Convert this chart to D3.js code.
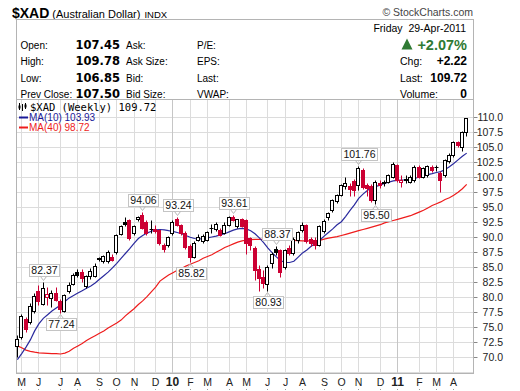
<!DOCTYPE html>
<html><head><meta charset="utf-8">
<script src="https://cdn.jsdelivr.net/npm/d3@7"></script>
<style>
body{margin:0;background:#fff}
svg{display:block}
</style>
</head><body>
<svg id="c" width="520" height="391" font-family="Liberation Sans, Arial, sans-serif"></svg>
<script>
// ---------- DATA (weekly $XAD, one value per week starting 27-Apr-2009) ----------
const firstWeek = "2009-04-27";
const lastWeek  = "2011-04-25";
const opens = [71.7,73.3,76.3,75.8,77.6,81.0,78.8,79.9,79.8,80.6,79.3,77.6,80.9,82.2,84.2,84.2,81.7,83.4,83.5,86.4,
85.9,85.9,86.7,87.5,90.45,92.4,92.8,90.6,92.9,93.6,92.5,91.3,91.3,91.1,88.6,88.6,90.6,93.0,91.95,90.6,
88.5,86.7,89.45,89.3,89.5,91.5,91.2,91.1,90.6,92.0,93.3,91.7,92.9,92.8,89.7,88.1,84.7,83.3,82.2,85.6,
88.0,87.8,85.0,88.1,87.3,89.5,91.1,91.95,89.55,89.4,88.6,90.9,93.3,94.45,95.9,96.95,98.4,98.4,99.3,98.6,
101.1,98.6,98.5,96.2,99.0,99.1,99.2,100.0,101.95,99.2,99.7,99.2,99.45,101.7,100.0,100.3,101.7,101.65,100.6,100.3,
102.6,103.6,105.7,105.0,107.5];
const highs = [73.6,77.2,76.6,78.9,80.6,81.9,82.37,81.6,81.1,81.6,79.7,80.5,82.4,84.0,84.6,84.6,83.6,84.8,85.6,86.7,
86.9,87.8,87.2,90.4,91.9,93.3,93.0,92.0,93.4,94.06,92.8,92.8,91.9,91.3,88.9,90.1,92.7,93.24,92.2,90.9,
88.8,89.2,90.5,90.4,91.0,92.2,92.4,91.4,92.4,93.5,93.61,93.0,93.1,93.0,90.0,88.4,85.3,84.5,85.2,87.5,
88.37,88.0,88.0,88.7,89.9,91.0,92.4,92.2,90.0,90.0,91.9,92.9,94.2,96.3,97.2,98.8,100.0,99.0,99.7,101.76,
101.5,99.0,98.8,99.4,99.5,99.5,100.5,102.5,102.2,100.3,100.2,100.3,101.9,101.9,101.6,102.0,102.0,101.9,101.0,103.0,
103.9,105.9,106.0,107.6,109.78];
const lows = [70.0,73.0,74.1,75.4,77.3,78.7,78.6,78.6,78.2,79.3,77.24,77.4,80.6,81.9,83.3,82.5,81.4,82.9,83.3,85.9,
85.6,85.6,85.9,87.2,90.2,91.7,89.5,90.3,92.6,91.3,90.3,90.6,90.6,88.7,87.5,88.3,90.3,91.7,90.3,88.0,
85.82,86.4,89.2,89.0,89.3,90.6,91.0,90.1,90.4,91.8,92.6,91.5,91.6,87.2,87.8,82.8,81.0,81.5,80.93,84.8,
86.9,83.3,84.6,86.9,86.9,89.0,90.8,89.0,88.4,87.9,88.4,90.7,92.8,94.2,95.6,96.7,97.9,96.8,96.7,97.7,
98.0,96.7,95.8,95.5,98.2,98.4,98.9,99.8,99.2,98.3,98.9,99.0,99.2,99.8,99.8,100.0,100.8,101.0,97.4,100.0,
102.3,103.3,104.9,104.2,106.7];
const closes = [73.0,76.8,74.6,78.5,80.1,79.2,81.4,80.4,80.6,79.5,77.9,80.3,82.0,83.6,83.7,83.2,83.45,84.3,85.1,86.3,
86.8,87.5,86.1,90.3,91.7,92.2,89.7,91.8,93.2,91.4,90.6,91.2,91.0,89.0,87.9,89.9,92.5,92.0,90.6,88.3,
86.7,89.0,90.0,90.1,90.8,91.4,92.1,90.3,91.95,93.3,92.8,92.9,91.8,88.9,88.6,84.45,83.1,82.3,84.9,87.2,
87.4,84.2,87.8,87.3,89.6,90.8,92.0,89.2,88.9,88.6,91.7,92.6,93.9,96.1,96.95,98.6,98.9,97.9,97.8,101.4,
98.3,98.1,96.1,99.2,98.7,98.9,100.3,102.2,99.45,99.4,99.5,100.0,101.7,100.0,101.4,101.8,101.1,101.55,99.45,102.8,
103.7,105.7,105.2,107.5,109.72];
const ma10 = [69.5,70.5,71.6,72.8,74.3,75.5,76.4,77.0,77.6,78.1,78.6,79.2,79.8,80.2,80.6,81.0,81.4,81.8,82.3,82.9,
83.5,84.1,84.8,85.55,86.4,87.2,88.0,88.9,89.7,90.2,90.6,90.9,91.15,91.2,91.15,91.0,90.9,90.7,90.5,90.2,
89.9,89.7,89.6,89.7,89.8,89.95,90.1,90.3,90.5,90.8,91.1,91.3,91.4,91.3,91.0,90.5,89.8,89.0,88.1,87.3,
86.6,86.0,85.7,85.7,85.9,86.6,87.3,87.8,88.4,88.9,89.4,90.1,90.7,91.3,92.0,92.5,93.4,94.4,95.3,96.4,
97.1,97.7,98.2,98.4,98.6,98.9,99.1,99.3,99.4,99.45,99.45,99.5,99.7,99.95,100.1,100.35,100.5,100.7,100.85,101.2,
101.65,102.2,102.8,103.4,103.93];
const ma40 = [71.8,71.5,71.1,70.9,70.75,70.65,70.6,70.55,70.5,70.5,70.45,70.6,70.9,71.4,71.8,72.2,72.7,73.1,73.5,73.9,
74.3,74.8,75.2,75.6,76.1,76.8,77.4,78.0,78.7,79.3,80.0,80.8,81.6,82.6,83.1,83.6,84.0,84.4,84.7,85.1,
85.4,85.7,86.0,86.4,86.7,87.0,87.4,87.8,88.2,88.5,88.8,89.1,89.3,89.45,89.5,89.55,89.55,89.55,89.55,89.55,
89.55,89.55,89.5,89.45,89.4,89.35,89.3,89.3,89.3,89.3,89.4,89.6,89.75,89.9,90.0,90.2,90.4,90.6,90.8,91.0,
91.2,91.4,91.6,91.8,92.0,92.3,92.5,92.7,92.9,93.1,93.3,93.5,93.8,94.1,94.4,94.8,95.2,95.5,95.8,96.2,
96.5,96.9,97.4,98.0,98.72];
const yTicks = [70,72.5,75,77.5,80,82.5,85,87.5,90,92.5,95,97.5,100,102.5,105,107.5,110];
const monthLabels = ["M","J","J","A","S","O","N","D","10","F","M","A","M","J","J","A","S","O","N","D","11","F","M","A"];
const annIndex = [6,10,29,37,40,50,58,60,79,83];
const annValue = [82.37,77.24,94.06,93.24,85.82,93.61,80.93,88.37,101.76,95.50];
const annSide  = ["high","low","high","high","low","high","low","high","high","low"];
const infoLabels1 = ["Open:","High:","Low:","Prev Close:"];
const infoValues1 = ["107.45","109.78","106.85","107.50"];
const infoLabels2 = ["Ask:","Ask Size:","Bid:","Bid Size:"];
const infoLabels3 = ["P/E:","EPS:","Last:","VWAP:"];
const rightLabels = ["Chg:","Last:","Volume:"];
const rightValues = ["+2.22","109.72","0"];

// ---------- DRAW ----------
const svg = d3.select("#c");
svg.append("rect").attr("width",520).attr("height",391).attr("fill","#fff");
const RED = "#cc0033", BLK = "#000", GREEN = "#2f7a34";
const parse = d3.timeParse("%Y-%m-%d");
const weeks = d3.timeMonday.range(parse(firstWeek), d3.timeDay.offset(parse(lastWeek),1));
const x = d3.scaleTime().domain([new Date(2009,4,4), parse(lastWeek)]).range([21.7,466.7]);
const y = d3.scaleLinear().domain([70,110]).range([356.7,116.7]);
const px = d => Math.floor(x(d)) + 0.5;
const py = v => Math.round(y(v)) + 0.5;
const L = 16.5, R = 473.5, T = 99.5, B = 373.5;

// title
const title = svg.append("text").attr("x",12).attr("y",17.5);
title.append("tspan").attr("font-weight","bold").attr("font-size","14px").text("$XAD");
title.append("tspan").attr("font-size","11px").attr("dx",3).text("(Australian Dollar)");
title.append("tspan").attr("font-size","9.5px").attr("dx",4).text("INDX");
svg.append("text").attr("x",473).attr("y",15.5).attr("text-anchor","end")
  .attr("font-size","10.5px").attr("fill","#444").text("\u00A9 StockCharts.com");

// info box
svg.append("rect").attr("x",L).attr("y",19.5).attr("width",R-L).attr("height",T-19.5)
  .attr("fill","#fff").attr("stroke","#b4b4b4");
const rowsY = [48.5,65,81.5,97.5];
rowsY.forEach((yy,i)=>{
  svg.append("text").attr("x",20.5).attr("y",yy).attr("font-size","10px").text(infoLabels1[i]);
  svg.append("text").attr("x",120).attr("y",yy).attr("text-anchor","end")
    .attr("font-family","DejaVu Sans").attr("font-weight","bold").attr("font-size","11.5px").text(infoValues1[i]);
  svg.append("text").attr("x",126).attr("y",yy).attr("font-size","10px").text(infoLabels2[i]);
  svg.append("text").attr("x",197).attr("y",yy).attr("font-size","10px").text(infoLabels3[i]);
});
svg.append("text").attr("x",466).attr("y",31.5).attr("text-anchor","end").attr("font-size","10.5px")
  .style("white-space","pre").text("Friday  29-Apr-2011");
svg.append("path").attr("d","M401.5,49.5L407,38.5L412.5,49.5Z").attr("fill",GREEN);
svg.append("text").attr("x",467).attr("y",49.5).attr("text-anchor","end").attr("font-weight","bold")
  .attr("font-size","14.5px").attr("fill",GREEN).text("+2.07%");
rightLabels.forEach((t,i)=>{
  const yy = rowsY[i+1];
  svg.append("text").attr("x",400).attr("y",yy).attr("font-size","10.5px").text(t);
  svg.append("text").attr("x",467).attr("y",yy).attr("text-anchor","end").attr("font-weight","bold")
    .attr("font-size","12px").text(rightValues[i]);
});

// chart frame & grid
svg.append("rect").attr("x",L).attr("y",T).attr("width",R-L).attr("height",B-T).attr("fill","#fff").attr("stroke","#b4b4b4");
const grid = svg.append("g");
yTicks.forEach(v=>{
  grid.append("line").attr("x1",L+0.5).attr("x2",R-0.5).attr("y1",py(v)).attr("y2",py(v)).attr("stroke","#dcdcdc");
});
grid.append("line").attr("x1",L+0.5).attr("x2",R-0.5).attr("y1",py(67.5)).attr("y2",py(67.5)).attr("stroke","#dcdcdc");
const months = d3.timeMonth.range(new Date(2009,4,1), new Date(2011,4,1));
const monthX = months.map(m => px(d3.timeMonday.ceil(m)));
months.forEach((m,i)=>{
  const isYear = m.getMonth()===0;
  grid.append("line").attr("x1",monthX[i]).attr("x2",monthX[i]).attr("y1",T+0.5).attr("y2",B-0.5)
    .attr("stroke", isYear ? "#c6c6c6" : "#dcdcdc");
  const lab = monthLabels[i];
  svg.append("text").attr("x",monthX[i]).attr("y",386).attr("text-anchor","middle")
    .attr("font-size", isYear ? "12px" : "10.5px").attr("font-weight", isYear ? "bold" : "normal")
    .attr("fill","#222").text(lab);
  svg.append("rect").attr("x",monthX[i]-0.5).attr("y",389).attr("width",1).attr("height",1).attr("fill","#999");
});
// right axis
yTicks.forEach(v=>{
  svg.append("line").attr("x1",474).attr("x2",477.5).attr("y1",py(v)).attr("y2",py(v)).attr("stroke","#888");
  svg.append("text").attr("x",503).attr("y",y(v)+4).attr("text-anchor","end").attr("font-size","10.5px")
    .attr("fill","#222").text(v.toFixed(1));
});

// moving averages
const plot = svg.append("g");
const line = d3.line().x((d,i)=>x(weeks[i])).y(d=>y(d));
plot.append("path").attr("d",line(ma40)).attr("fill","none").attr("stroke","#ee1c1c").attr("stroke-width",1.2);
plot.append("path").attr("d",line(ma10)).attr("fill","none").attr("stroke","#2a2a9e").attr("stroke-width",1.2);

// candles
weeks.forEach((d,i)=>{
  const o=opens[i], h=highs[i], l=lows[i], c=closes[i];
  const prev = i>0 ? closes[i-1] : o;
  const col = c < prev ? RED : BLK;
  const cx = px(d);
  const g = plot.append("g");
  g.append("line").attr("x1",cx).attr("x2",cx).attr("y1",py(h)).attr("y2",py(l)).attr("stroke",col);
  const t = py(Math.max(o,c)), b = py(Math.min(o,c));
  if (b - t < 1) {
    g.append("line").attr("x1",cx-2).attr("x2",cx+2).attr("y1",t).attr("y2",t).attr("stroke",col);
  } else {
    g.append("rect").attr("x",cx-2).attr("y",t).attr("width",3).attr("height",b-t)
      .attr("fill", c >= o ? "#fff" : col).attr("stroke",col);
  }
});

// annotations
annIndex.forEach((k,j)=>{
  const cx = px(weeks[k]);
  const vy = y(annValue[j]);
  const txt = annValue[j].toFixed(2);
  const g = svg.append("g");
  const t = g.append("text").attr("font-size","10.5px").attr("text-anchor","middle").attr("fill","#111").text(txt);
  const w = Math.round(t.node().getComputedTextLength()) + 4;
  const h = 12;
  let top, tip, base;
  if (annSide[j]==="high") { base = Math.round(vy) - 5.5; top = base - h; tip = Math.round(vy) - 1.5; }
  else { base = Math.round(vy) + 5.5; top = base; tip = Math.round(vy) + 1.5; }
  const bx = Math.round(cx - w/2) + 0.5;
  g.insert("rect","text").attr("x",bx).attr("y",top).attr("width",w).attr("height",h)
    .attr("fill","#fff").attr("stroke","#c4c4c4");
  g.append("path").attr("d",`M${cx-3},${base}L${cx},${tip}L${cx+3},${base}`).attr("fill","none").attr("stroke","#b8b8b8");
  t.attr("x",bx + w/2).attr("y",top + 9.5);
});

// legend
const lg = svg.append("g");
lg.append("text").attr("x",30).attr("y",111).attr("font-family","DejaVu Sans Mono")
  .attr("font-size","10.5px").text("$XAD (Weekly) 109.72");
[[19.5,103,110],[22.5,104,111],[25.5,103,109]].forEach(a=>{
  lg.append("line").attr("x1",a[0]).attr("x2",a[0]).attr("y1",a[1]).attr("y2",a[2]).attr("stroke","#000");
});
lg.append("rect").attr("x",18.5).attr("y",105.5).attr("width",2).attr("height",3).attr("fill","#000");
lg.append("rect").attr("x",24.5).attr("y",104.5).attr("width",2).attr("height",3).attr("fill","#000");
lg.append("line").attr("x1",19).attr("x2",28).attr("y1",117.5).attr("y2",117.5).attr("stroke","#1a1a99").attr("stroke-width",2);
lg.append("text").attr("x",29).attr("y",121).attr("font-size","10px").attr("fill","#1a1a99").text("MA(10) 103.93");
lg.append("line").attr("x1",19).attr("x2",28).attr("y1",127.5).attr("y2",127.5).attr("stroke","#ee1c1c").attr("stroke-width",2);
lg.append("text").attr("x",29).attr("y",131).attr("font-size","10px").attr("fill","#ee1c1c").text("MA(40) 98.72");
</script>
</body></html>
